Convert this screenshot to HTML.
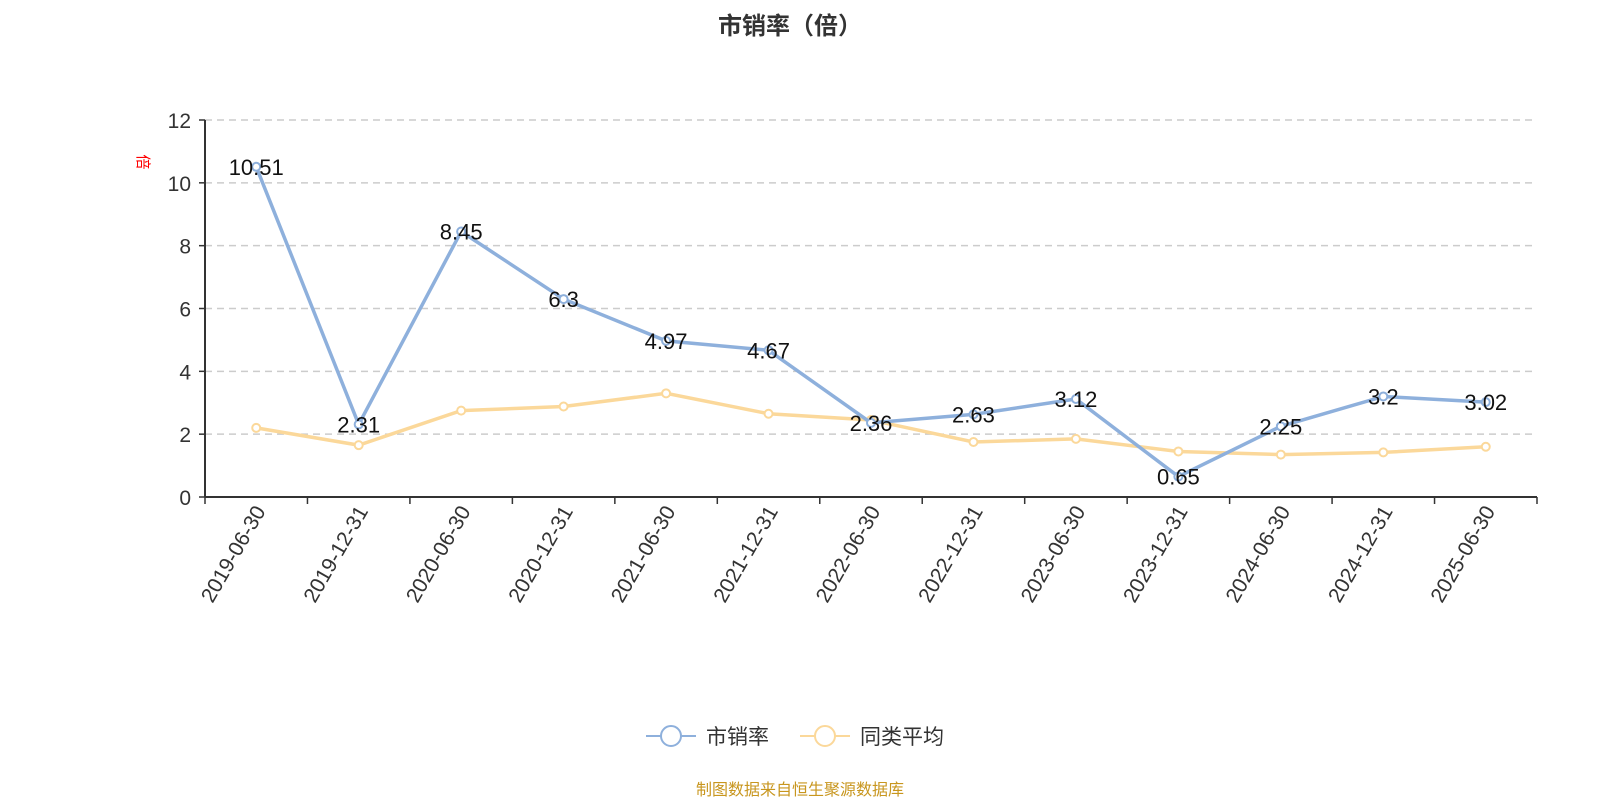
<!DOCTYPE html>
<html><head><meta charset="utf-8"><style>
body{margin:0;background:#fff;}
svg{display:block;font-family:"Liberation Sans","Noto Sans CJK SC",sans-serif;}
</style></head><body>
<svg id="chart" width="1600" height="800">
<text x="790" y="34" text-anchor="middle" font-size="24" font-weight="bold" fill="#333">市销率（倍）</text>
<text x="0" y="0" transform="translate(138,162) rotate(90)" text-anchor="middle" font-size="15" fill="#f00">倍</text>
<g id="grid"></g><g id="axes"></g><g id="series"></g>
<g>
<g><line x1="646" y1="736" x2="696" y2="736" stroke="#8eb0dc" stroke-width="2"/><circle cx="671" cy="736" r="10" fill="#fff" stroke="#8eb0dc" stroke-width="2"/><text x="706" y="744" font-size="21" fill="#333">市销率</text></g>
<g><line x1="800" y1="736" x2="850" y2="736" stroke="#fbd89a" stroke-width="2"/><circle cx="825" cy="736" r="10" fill="#fff" stroke="#fbd89a" stroke-width="2"/><text x="860" y="744" font-size="21" fill="#333">同类平均</text></g>
</g>
<text x="800" y="795" text-anchor="middle" font-size="16" fill="#c8961e">制图数据来自恒生聚源数据库</text>
</svg>
<script>
const categories=["2019-06-30","2019-12-31","2020-06-30","2020-12-31","2021-06-30","2021-12-31","2022-06-30","2022-12-31","2023-06-30","2023-12-31","2024-06-30","2024-12-31","2025-06-30"];
const psValues=[10.51,2.31,8.45,6.3,4.97,4.67,2.36,2.63,3.12,0.65,2.25,3.2,3.02];
const avgValues=[2.2,1.65,2.75,2.88,3.3,2.65,2.45,1.75,1.85,1.45,1.35,1.42,1.6];
const yTicks=[0,2,4,6,8,10,12];
const NS="http://www.w3.org/2000/svg";
const L=205,R=1537,T=120,B=497,yMax=12;
const bw=(R-L)/categories.length;
const x=i=>L+bw*(i+0.5);
const y=v=>B-(v/yMax)*(B-T);
function mk(tag,attrs,parent,txt){const e=document.createElementNS(NS,tag);for(const k in attrs)e.setAttribute(k,attrs[k]);if(txt!==undefined)e.textContent=txt;parent.appendChild(e);return e;}
const grid=document.getElementById('grid'),axes=document.getElementById('axes'),ser=document.getElementById('series');
yTicks.forEach(t=>{
 if(t>0){const g=mk('line',{x1:L,x2:R,y1:y(t),y2:y(t),stroke:'#ccc','stroke-width':1.5,'stroke-dasharray':'7,5'},grid);
 
 }
 const tl=mk('text',{x:L-14,y:y(t)+8,'text-anchor':'end','font-size':21,fill:'#333'},axes,String(t));
 
 
 mk('line',{x1:L-6,x2:L,y1:y(t),y2:y(t),stroke:'#333','stroke-width':1.5},axes);
});
mk('line',{x1:L,x2:L,y1:T,y2:B,stroke:'#333','stroke-width':2},axes);
mk('line',{x1:L,x2:R,y1:B,y2:B,stroke:'#333','stroke-width':2},axes);
for(let i=0;i<=categories.length;i++){mk('line',{x1:L+bw*i,x2:L+bw*i,y1:B,y2:B+7,stroke:'#333','stroke-width':1.5},axes);}
categories.forEach((c,i)=>{
 const t=mk('text',{x:0,y:0,transform:`translate(${x(i)+10},${B+14}) rotate(-60)`,'text-anchor':'end','font-size':21,fill:'#333'},axes,c);
 
 
});
function line(vals,color,name,labels){
 const p=mk('polyline',{points:vals.map((v,i)=>x(i)+','+y(v)).join(' '),fill:'none',stroke:color,'stroke-width':3.5},ser);
 
 
 vals.forEach((v,i)=>{
  const c=mk('circle',{cx:x(i),cy:y(v),r:4,fill:'#fff',stroke:color,'stroke-width':2},ser);
  
  
 });
 if(labels)vals.forEach((v,i)=>{
  const t=mk('text',{x:x(i),y:y(v)+8,'text-anchor':'middle','font-size':22,fill:'#111'},ser,String(v));
  
  
 });
}
line(avgValues,'#fbd89a','avg',false);
line(psValues,'#8eb0dc','ps',true);
</script>
</body></html>
